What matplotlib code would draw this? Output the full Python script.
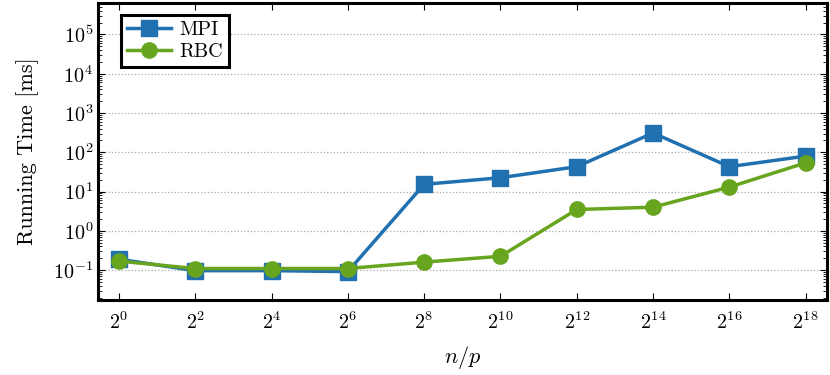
import numpy as np
import matplotlib
matplotlib.use("Agg")
import matplotlib.pyplot as plt
from matplotlib.ticker import LogLocator, FixedLocator, NullFormatter

plt.rcParams['font.family'] = 'serif'
plt.rcParams['font.serif'] = ['cmr10', 'DejaVu Serif']
plt.rcParams['mathtext.fontset'] = 'cm'
plt.rcParams['axes.formatter.use_mathtext'] = True

# data
exponents = [0, 2, 4, 6, 8, 10, 12, 14, 16, 18]
mpi_ms = [0.19, 0.097, 0.097, 0.092, 15.3, 22.5, 43, 310, 43, 80]
rbc_ms = [0.17, 0.11, 0.11, 0.11, 0.16, 0.225, 3.5, 4.0, 13, 54]

n_over_p = [2.0 ** e for e in exponents]
tick_labels = [r'$2^{%d}$' % e for e in exponents]

fig = plt.figure(figsize=(8.3, 3.75), dpi=100)
ax = fig.add_axes([0.118, 0.2, 0.878, 0.792])

ax.plot(n_over_p, mpi_ms, color='#2170b0', marker='s', markersize=11,
        linewidth=2.5, label='MPI', clip_on=False, zorder=3)
ax.plot(n_over_p, rbc_ms, color='#67a51f', marker='o', markersize=11,
        linewidth=2.5, label='RBC', clip_on=False, zorder=4)

ax.set_xscale('log', base=2)
ax.set_yscale('log')
ax.set_xlim(2 ** -0.55, 2 ** 18.55)
ax.set_ylim(10 ** -1.76, 10 ** 5.8)

ax.xaxis.set_major_locator(FixedLocator(n_over_p))
ax.set_xticklabels(tick_labels)
ax.xaxis.set_minor_locator(FixedLocator([]))
ax.yaxis.set_major_locator(FixedLocator([10.0 ** k for k in range(-1, 6)]))
ax.yaxis.set_minor_locator(LogLocator(base=10, subs=np.arange(2, 10), numticks=20))
ax.yaxis.set_minor_formatter(NullFormatter())

ax.tick_params(which='both', direction='in', top=True, right=True, labelsize=14.5)
ax.tick_params(which='major', length=5, width=0.8)
ax.tick_params(which='minor', length=3, width=0.6)
ax.tick_params(axis='x', pad=8)

ax.grid(True, axis='y', which='major', linestyle=':', color='#aaaaaa', linewidth=0.9)
for s in ax.spines.values():
    s.set_linewidth(2.2)

ax.set_xlabel(r'$n/p$', fontsize=16, labelpad=8)
ax.set_ylabel('Running Time [ms]', fontsize=16, labelpad=10)

leg = ax.legend(loc='upper left', fontsize=14.5, fancybox=False, framealpha=1,
                edgecolor='black', borderpad=0.3, handlelength=2.2,
                handletextpad=0.4, labelspacing=0.2, bbox_to_anchor=(0.018, 0.995))
leg.get_frame().set_linewidth(2.2)

fig.savefig('out.png', dpi=100)
